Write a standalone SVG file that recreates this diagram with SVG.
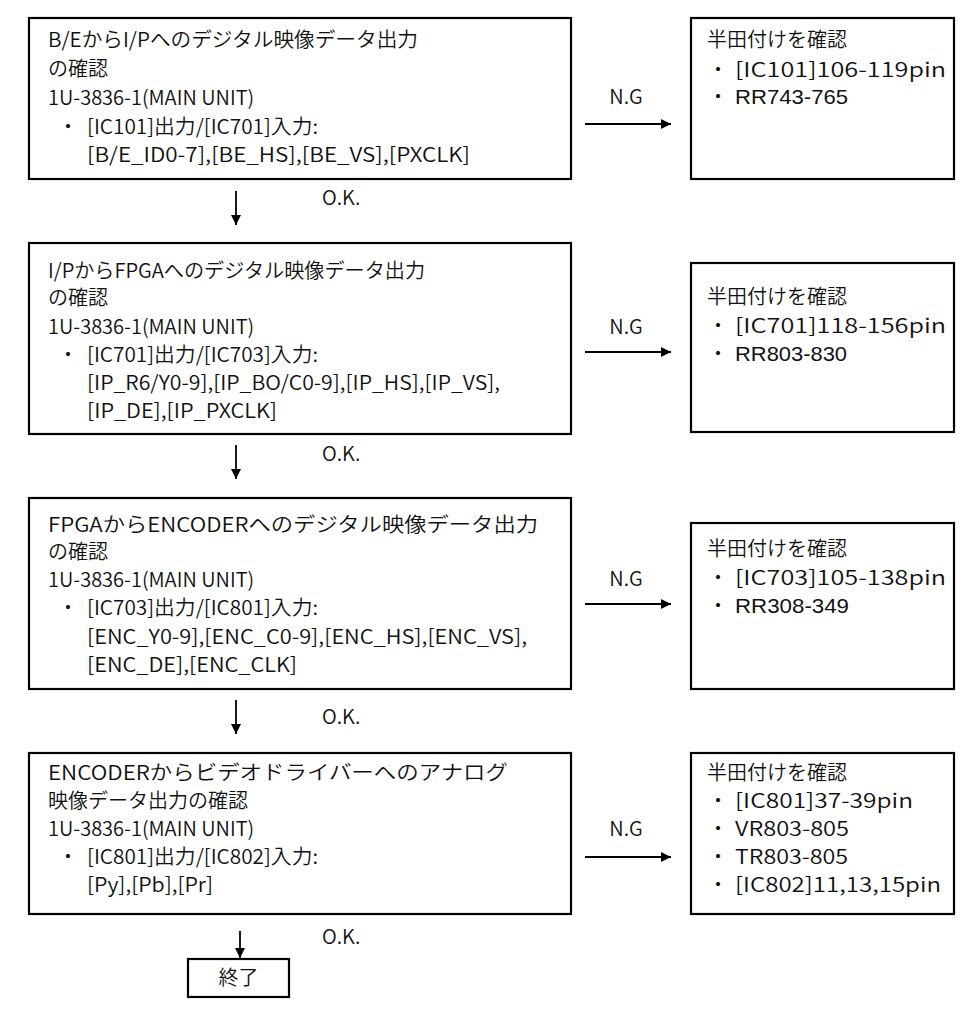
<svg xmlns="http://www.w3.org/2000/svg" width="970" height="1011" viewBox="0 0 970 1011">
<style>
.box{fill:#fff;stroke:#000;stroke-width:2.2}
.t{font-family:"Noto Sans CJK JP","Noto Sans",sans-serif;font-size:20px;font-weight:350;fill:#111}
.a{font-family:"Liberation Sans",Arial,sans-serif;font-size:21px;font-weight:400}
.ln{stroke:#000;stroke-width:1.8;fill:none}
</style>
<defs>
<marker id="ah" viewBox="0 0 10 10" refX="10" refY="5" markerWidth="10" markerHeight="10" markerUnits="userSpaceOnUse" orient="auto">
<path d="M0,0 L10,5 L0,10 z" fill="#000"/>
</marker>
</defs>
<rect width="970" height="1011" fill="#fff"/>

<g id="step1">
<rect class="box" x="29" y="18" width="542" height="161"/>
<text class="t" x="48" y="47" textLength="370" lengthAdjust="spacingAndGlyphs">B/EからI/Pへのデジタル映像データ出力</text>
<text class="t" x="48" y="76">の確認</text>
<text class="t" x="48" y="105">1U-3836-1(MAIN UNIT)</text>
<text class="t" x="58" y="134">・<tspan x="87" textLength="231" lengthAdjust="spacingAndGlyphs">[IC101]出力/[IC701]入力:</tspan></text>
<text class="t" x="87" y="162" textLength="383" lengthAdjust="spacingAndGlyphs">[B/E_ID0-7],[BE_HS],[BE_VS],[PXCLK]</text>
</g>
<g id="ng1">
<rect class="box" x="691" y="18" width="263" height="161"/>
<text class="t" x="707" y="47">半田付けを確認</text>
<text class="t" x="708" y="77">・<tspan x="735" textLength="211" lengthAdjust="spacingAndGlyphs">[IC101]106-119pin</tspan></text>
<text class="t" x="708" y="104">・<tspan class="a" x="735" textLength="113" lengthAdjust="spacingAndGlyphs">RR743-765</tspan></text>
</g>

<g id="step2">
<rect class="box" x="29" y="243" width="542" height="191"/>
<text class="t" x="48" y="278" textLength="377" lengthAdjust="spacingAndGlyphs">I/PからFPGAへのデジタル映像データ出力</text>
<text class="t" x="48" y="305">の確認</text>
<text class="t" x="48" y="334">1U-3836-1(MAIN UNIT)</text>
<text class="t" x="58" y="362">・<tspan x="87" textLength="231" lengthAdjust="spacingAndGlyphs">[IC701]出力/[IC703]入力:</tspan></text>
<text class="t" x="87" y="390" textLength="413" lengthAdjust="spacingAndGlyphs">[IP_R6/Y0-9],[IP_BO/C0-9],[IP_HS],[IP_VS],</text>
<text class="t" x="87" y="418" textLength="190" lengthAdjust="spacingAndGlyphs">[IP_DE],[IP_PXCLK]</text>
</g>
<g id="ng2">
<rect class="box" x="691" y="263" width="263" height="169"/>
<text class="t" x="707" y="304">半田付けを確認</text>
<text class="t" x="708" y="333">・<tspan x="735" textLength="211" lengthAdjust="spacingAndGlyphs">[IC701]118-156pin</tspan></text>
<text class="t" x="708" y="361">・<tspan class="a" x="735" textLength="112" lengthAdjust="spacingAndGlyphs">RR803-830</tspan></text>
</g>

<g id="step3">
<rect class="box" x="29" y="498" width="542" height="191"/>
<text class="t" x="48" y="532" textLength="490" lengthAdjust="spacingAndGlyphs">FPGAからENCODERへのデジタル映像データ出力</text>
<text class="t" x="48" y="559">の確認</text>
<text class="t" x="48" y="587">1U-3836-1(MAIN UNIT)</text>
<text class="t" x="58" y="615">・<tspan x="87" textLength="231" lengthAdjust="spacingAndGlyphs">[IC703]出力/[IC801]入力:</tspan></text>
<text class="t" x="87" y="644" textLength="440" lengthAdjust="spacingAndGlyphs">[ENC_Y0-9],[ENC_C0-9],[ENC_HS],[ENC_VS],</text>
<text class="t" x="87" y="672" textLength="210" lengthAdjust="spacingAndGlyphs">[ENC_DE],[ENC_CLK]</text>
</g>
<g id="ng3">
<rect class="box" x="691" y="523" width="263" height="166"/>
<text class="t" x="707" y="556">半田付けを確認</text>
<text class="t" x="708" y="585">・<tspan x="735" textLength="211" lengthAdjust="spacingAndGlyphs">[IC703]105-138pin</tspan></text>
<text class="t" x="708" y="613">・<tspan class="a" x="735" textLength="114" lengthAdjust="spacingAndGlyphs">RR308-349</tspan></text>
</g>

<g id="step4">
<rect class="box" x="29" y="753" width="542" height="161"/>
<text class="t" x="48" y="780" textLength="460" lengthAdjust="spacingAndGlyphs">ENCODERからビデオドライバーへのアナログ</text>
<text class="t" x="48" y="808">映像データ出力の確認</text>
<text class="t" x="48" y="836">1U-3836-1(MAIN UNIT)</text>
<text class="t" x="58" y="864">・<tspan x="87" textLength="231" lengthAdjust="spacingAndGlyphs">[IC801]出力/[IC802]入力:</tspan></text>
<text class="t" x="87" y="892" textLength="126" lengthAdjust="spacingAndGlyphs">[Py],[Pb],[Pr]</text>
</g>
<g id="ng4">
<rect class="box" x="691" y="753" width="263" height="161"/>
<text class="t" x="707" y="780">半田付けを確認</text>
<text class="t" x="708" y="808">・<tspan x="735" textLength="178" lengthAdjust="spacingAndGlyphs">[IC801]37-39pin</tspan></text>
<text class="t" x="708" y="836">・<tspan x="735" textLength="114" lengthAdjust="spacingAndGlyphs">VR803-805</tspan></text>
<text class="t" x="708" y="864">・<tspan x="735" textLength="113" lengthAdjust="spacingAndGlyphs">TR803-805</tspan></text>
<text class="t" x="708" y="892">・<tspan x="735" textLength="206" lengthAdjust="spacingAndGlyphs">[IC802]11,13,15pin</tspan></text>
</g>

<g id="end">
<rect class="box" x="188" y="959" width="101" height="38"/>
<text class="t" x="238.5" y="985" text-anchor="middle">終了</text>
</g>

<g id="connectors">
<line class="ln" x1="236" y1="191" x2="236" y2="225" marker-end="url(#ah)"/>
<line class="ln" x1="236" y1="445" x2="236" y2="479" marker-end="url(#ah)"/>
<line class="ln" x1="236" y1="700" x2="236" y2="734" marker-end="url(#ah)"/>
<line class="ln" x1="240" y1="931" x2="240" y2="958" marker-end="url(#ah)"/>
<line class="ln" x1="585" y1="124" x2="671" y2="124" marker-end="url(#ah)"/>
<line class="ln" x1="585" y1="352" x2="671" y2="352" marker-end="url(#ah)"/>
<line class="ln" x1="585" y1="604" x2="671" y2="604" marker-end="url(#ah)"/>
<line class="ln" x1="585" y1="857" x2="671" y2="857" marker-end="url(#ah)"/>
<text class="t" x="322" y="205">O.K.</text>
<text class="t" x="322" y="461">O.K.</text>
<text class="t" x="322" y="724">O.K.</text>
<text class="t" x="322" y="944">O.K.</text>
<text class="t" x="626" y="104" text-anchor="middle">N.G</text>
<text class="t" x="626" y="334" text-anchor="middle">N.G</text>
<text class="t" x="626" y="586" text-anchor="middle">N.G</text>
<text class="t" x="626" y="836" text-anchor="middle">N.G</text>
</g>
</svg>
